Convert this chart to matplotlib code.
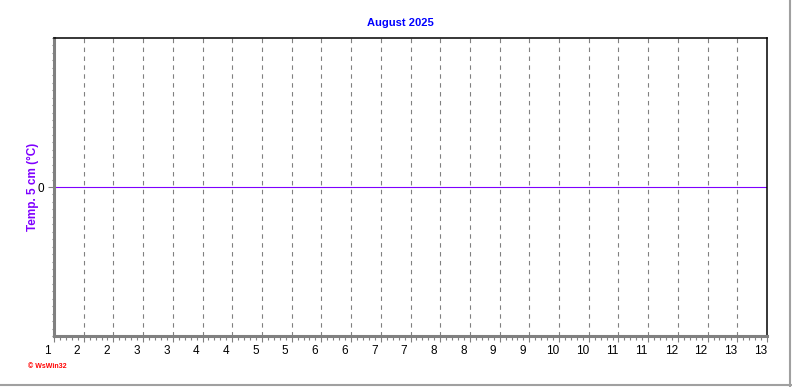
import matplotlib
matplotlib.use('Agg')
import matplotlib.pyplot as plt
from matplotlib.ticker import MultipleLocator

plt.rcParams['font.family'] = ['Liberation Sans', 'DejaVu Sans']

# Chart data (no readings recorded for this month)
title = 'August 2025'
y_label = 'Temp. 5 cm (°C)'
tick_labels = ['1', '2', '2', '3', '3', '4', '4', '5', '5', '6', '6', '7', '7',
               '8', '8', '9', '9', '10', '10', '11', '11', '12', '12', '13', '13']
zero_value = 0

fig = plt.figure(figsize=(7.92, 3.87), dpi=100)
ax = fig.add_axes([54 / 792, 1 - 336 / 387, 713 / 792, 298 / 387])

n = len(tick_labels) - 1
ax.set_xlim(0, n)
ax.set_ylim(-1, 1)

# Vertical dashed grid lines
for i in range(1, n):
    ax.axvline(i, color='#808080', linestyle=(0, (4, 4)), linewidth=0.8)

# Zero line
ax.axhline(zero_value, color='#7F00FF', linewidth=0.8)

# Spines
ax.spines['left'].set_color('#808080')
ax.spines['left'].set_linewidth(2.2)
ax.spines['bottom'].set_color('#808080')
ax.spines['bottom'].set_linewidth(2.2)
ax.spines['top'].set_color('black')
ax.spines['top'].set_linewidth(1.1)
ax.spines['right'].set_color('black')
ax.spines['right'].set_linewidth(1.1)

# X ticks
ax.set_xticks(range(n + 1))
ax.set_xticklabels([])
ax.xaxis.set_minor_locator(MultipleLocator(0.2))
ax.tick_params(axis='x', which='major', length=4, width=0.8, color='#808080', direction='out')
ax.tick_params(axis='x', which='minor', length=3, width=0.8, color='#808080', direction='out')
for i, lab in enumerate(tick_labels):
    ax.text(i - 0.22, -0.05, lab, transform=ax.get_xaxis_transform(),
            ha='center', va='center', fontsize=8.5, color='black')

# Y ticks
ax.set_yticks([zero_value])
ax.set_yticklabels(['0'], fontsize=8.5)
ax.yaxis.set_minor_locator(MultipleLocator(0.05))
ax.tick_params(axis='y', which='major', length=4, width=0.8, color='#808080', pad=3)
ax.tick_params(axis='y', which='minor', length=1.5, width=0.8, color='#808080')

fig.text(400 / 792, 1 - 23 / 387, title, ha='center', va='center',
         fontsize=8, fontweight='bold', color='#0000FF')
fig.text(33 / 792, 1 - 187 / 387, y_label, ha='center', va='center',
         rotation=90, fontsize=8.5, fontweight='bold', color='#7F00FF')
fig.text(28 / 792, 1 - 367 / 387, '\u00a9 WsWin32', ha='left', va='center',
         fontsize=5, fontweight='bold', color='red')

# Outer frame lines (right and bottom)
fig.add_artist(plt.Line2D([789.5 / 792, 789.5 / 792], [0, 1], color='#A0A0A0',
                          linewidth=1.5, transform=fig.transFigure))
fig.add_artist(plt.Line2D([0, 1], [2 / 387, 2 / 387], color='#A0A0A0',
                          linewidth=1.5, transform=fig.transFigure))

fig.savefig('out.png', dpi=100)
